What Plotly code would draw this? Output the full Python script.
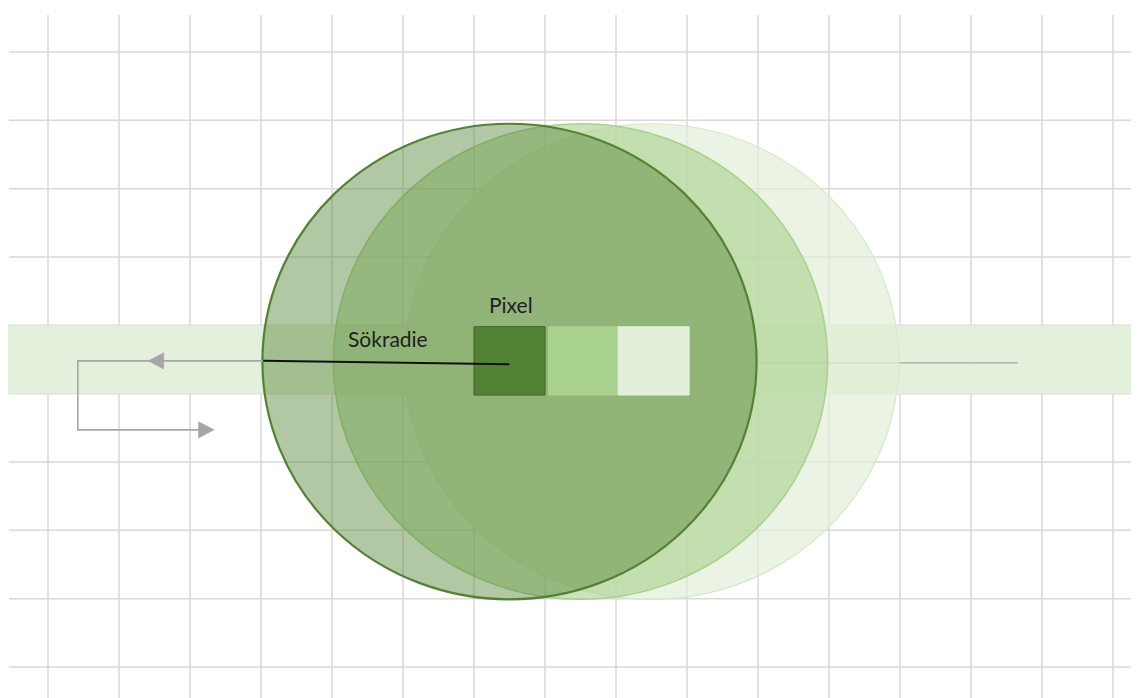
import plotly.graph_objects as go

# ---- diagram data (grid-cell units) ----
grid_cols = list(range(0, 16))          # vertical grid line indices
grid_rows = list(range(0, 10))          # horizontal grid line indices
band_rows = [4, 5]                      # highlighted row (top, bottom)
circle_centers_x = [8.5, 7.5, 6.5]      # search windows (light -> dark)
circle_center_y = 4.53
circle_radius = 3.48
circle_fills = ["rgba(226,239,217,0.7)", "rgba(169,209,142,0.6)", "rgba(84,130,53,0.45)"]
circle_lines = ["rgba(213,232,200,1)", "#a9d18e", "#548235"]
circle_widths = [1.2, 1.6, 2.2]
pixel_x0 = [6.0, 7.05, 8.03]
pixel_x1 = [7.0, 8.03, 9.03]
pixel_y = [4.02, 5.02]
pixel_fills = ["#548235", "#a9d18e", "#e2efd9"]
pixel_lines = ["#3e6228", "#a9d18e", "#e2efd9"]
radius_line_x = [3.03, 6.5]
radius_line_y = [4.52, 4.57]
scan_path_x = [3.03, 0.42, 0.42, 2.2]
scan_path_y = [4.52, 4.52, 5.53, 5.53]
right_line_x = [10.0, 13.66]
right_line_y = [4.55, 4.55]
labels = ["Pixel", "Sökradie"]
label_x = [6.52, 4.79]
label_y = [3.69, 4.2]

# pixel mapping of the page (page body has an 8px margin)
PAGE = 8
CELL_W, CELL_H = 71.0, 68.33
X_OFF, Y_OFF = 48.0 - PAGE, 52.0 - PAGE
W, H = 1139 - PAGE, 698 - PAGE
x_range = [-X_OFF / CELL_W, (W - X_OFF) / CELL_W]
y_range = [(H - Y_OFF) / CELL_H, -Y_OFF / CELL_H]

shapes = []
grid_color = "#d9d9d9"
for c in grid_cols:
    shapes.append(dict(type="line", x0=c, x1=c, y0=(15 - PAGE - Y_OFF) / CELL_H, y1=y_range[0],
                       line=dict(color=grid_color, width=1.5)))
for r in grid_rows:
    shapes.append(dict(type="line", y0=r, y1=r, x0=(9 - PAGE - X_OFF) / CELL_W, x1=x_range[1],
                       line=dict(color=grid_color, width=1.5)))

# band
shapes.append(dict(type="rect", x0=(8 - PAGE - X_OFF) / CELL_W, x1=x_range[1], y0=band_rows[0], y1=band_rows[1],
                   fillcolor="rgba(226,239,217,0.95)", line=dict(width=0)))

# right gray line (under circles)
shapes.append(dict(type="line", x0=right_line_x[0], x1=right_line_x[1], y0=right_line_y[0], y1=right_line_y[1],
                   line=dict(color="#a6a6a6", width=1.3)))

# circles
for cx, fc, lc, lw in zip(circle_centers_x, circle_fills, circle_lines, circle_widths):
    shapes.append(dict(type="circle", x0=cx - circle_radius, x1=cx + circle_radius,
                       y0=circle_center_y - circle_radius, y1=circle_center_y + circle_radius,
                       fillcolor=fc, line=dict(color=lc, width=lw)))

# scan path (gray)
path = "M " + " L ".join(f"{x},{y}" for x, y in zip(scan_path_x, scan_path_y))
shapes.append(dict(type="path", path=path, line=dict(color="#a6a6a6", width=1.6)))
# arrowheads
ah_w, ah_h = 0.22, 0.12
tip1 = (1.41, scan_path_y[0])
shapes.append(dict(type="path",
                   path=f"M {tip1[0]},{tip1[1]} L {tip1[0]+ah_w},{tip1[1]-ah_h} L {tip1[0]+ah_w},{tip1[1]+ah_h} Z",
                   fillcolor="#a6a6a6", line=dict(color="#a6a6a6", width=0.5)))
tip2 = (2.34, scan_path_y[3])
shapes.append(dict(type="path",
                   path=f"M {tip2[0]},{tip2[1]} L {tip2[0]-ah_w},{tip2[1]-ah_h} L {tip2[0]-ah_w},{tip2[1]+ah_h} Z",
                   fillcolor="#a6a6a6", line=dict(color="#a6a6a6", width=0.5)))

# pixels
for x0, x1, fc, lc in zip(pixel_x0, pixel_x1, pixel_fills, pixel_lines):
    shapes.append(dict(type="rect", x0=x0, x1=x1, y0=pixel_y[0], y1=pixel_y[1],
                       fillcolor=fc, line=dict(color=lc, width=1)))

# radius line (black)
shapes.append(dict(type="line", x0=radius_line_x[0], x1=radius_line_x[1],
                   y0=radius_line_y[0], y1=radius_line_y[1], line=dict(color="#111111", width=2)))

annotations = [dict(x=x, y=y, text=t, showarrow=False, xref="x", yref="y",
                    font=dict(family="Lato", size=21, color="#1f1f1f"))
               for t, x, y in zip(labels, label_x, label_y)]

fig = go.Figure()
fig.add_trace(go.Scatter(x=[None], y=[None], showlegend=False))
fig.update_layout(
    width=W, height=H, margin=dict(l=0, r=0, t=0, b=0),
    paper_bgcolor="white", plot_bgcolor="white",
    xaxis=dict(range=x_range, visible=False, fixedrange=True),
    yaxis=dict(range=y_range, visible=False, fixedrange=True),
    shapes=shapes, annotations=annotations, showlegend=False,
)
fig.write_html("out.html", config={"displayModeBar": False})
